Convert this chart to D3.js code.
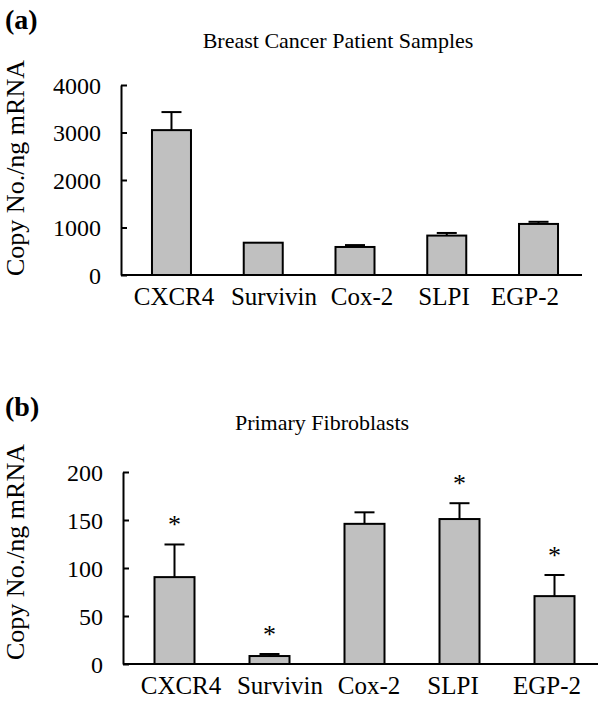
<!DOCTYPE html>
<html>
<head>
<meta charset="utf-8">
<script src="https://cdn.jsdelivr.net/npm/d3@7"></script>
<style>
html,body{margin:0;padding:0;background:#fff;}
svg{display:block;}
text{font-family:"Liberation Serif","Times New Roman",serif;fill:#000;}
</style>
</head>
<body>
<svg id="chart" width="600" height="706"></svg>
<script>
const categories = ["CXCR4", "Survivin", "Cox-2", "SLPI", "EGP-2"];
const cancerValues = [3050, 680, 590, 830, 1075];
const cancerErrors = [380, 0, 40, 55, 45];
const fibroValues = [90.5, 8.3, 146, 151, 70.7];
const fibroErrors = [34, 2.1, 12, 16.5, 22];
const fibroStars = [true, true, false, true, true];
const cancerTicks = [0, 1000, 2000, 3000, 4000];
const fibroTicks = [0, 50, 100, 150, 200];

const svg = d3.select("#chart");

function panel(cfg) {
  const g = svg.append("g");
  const x = d3.scalePoint().domain(categories).range(cfg.xRange).padding(0.5);
  const y = d3.scaleLinear().domain(cfg.yDomain).range(cfg.yRange);

  // panel letter
  g.append("text").attr("x", 5).attr("y", cfg.letterY)
    .style("font-size", "28px").style("font-weight", "bold").text(cfg.letter);
  // title
  g.append("text").attr("x", cfg.titleX).attr("y", cfg.titleY)
    .attr("text-anchor", "middle").style("font-size", "22px").text(cfg.title);

  // y axis
  const yAxis = d3.axisLeft(y).tickValues(cfg.ticks).tickFormat(d3.format("d"))
    .tickSizeInner(-6).tickSizeOuter(0).tickPadding(20);
  const ya = g.append("g").attr("transform", `translate(${cfg.axisX},0)`).call(yAxis);
  ya.attr("font-family", null).attr("font-size", null);
  ya.select(".domain").attr("stroke", "#000").attr("stroke-width", 2);
  ya.selectAll(".tick line").attr("stroke", "#000").attr("stroke-width", 2);
  ya.selectAll(".tick text").style("font-size", "24px")
    .attr("x", cfg.tickTextX - cfg.axisX).attr("dy", "0.35em");

  // y label
  g.append("text")
    .attr("transform", `translate(${cfg.yLabelX},${cfg.yLabelY}) rotate(-90)`)
    .attr("text-anchor", "middle").style("font-size", "26px").text("Copy No./ng mRNA");

  // bars
  const bw = cfg.barWidth;
  g.selectAll("rect.bar").data(cfg.values).enter().append("rect")
    .attr("class", "bar")
    .attr("x", (d, i) => x(categories[i]) - bw / 2)
    .attr("y", d => y(d))
    .attr("width", bw)
    .attr("height", d => y(0) - y(d))
    .attr("fill", "#c0c0c0").attr("stroke", "#000").attr("stroke-width", 2);

  // error bars
  cfg.values.forEach((v, i) => {
    const e = cfg.errors[i];
    if (!e) return;
    const cx = x(categories[i]);
    g.append("line").attr("x1", cx).attr("x2", cx).attr("y1", y(v)).attr("y2", y(v + e))
      .attr("stroke", "#000").attr("stroke-width", 2);
    g.append("line").attr("x1", cx - 10).attr("x2", cx + 10).attr("y1", y(v + e)).attr("y2", y(v + e))
      .attr("stroke", "#000").attr("stroke-width", 2);
  });

  // stars
  if (cfg.stars) {
    cfg.values.forEach((v, i) => {
      if (!cfg.stars[i]) return;
      g.append("text").attr("x", x(categories[i])).attr("y", y(v + cfg.errors[i]) - 11)
        .attr("text-anchor", "middle").style("font-size", "26px").text("*");
    });
  }

  // x axis line
  g.append("line").attr("x1", cfg.axisX).attr("x2", cfg.xAxisEnd)
    .attr("y1", y(0)).attr("y2", y(0)).attr("stroke", "#000").attr("stroke-width", 2);

  // x labels
  g.selectAll("text.xl").data(categories).enter().append("text")
    .attr("class", "xl")
    .attr("x", (d, i) => cfg.labelX[i])
    .attr("y", cfg.labelY)
    .attr("text-anchor", "middle").style("font-size", "25px").text(d => d);
}

panel({
  letter: "(a)", letterY: 29, title: "Breast Cancer Patient Samples", titleX: 338, titleY: 48,
  xRange: [125.6, 584.4], yDomain: [0, 4000], yRange: [275, 85], ticks: cancerTicks,
  axisX: 121, xAxisEnd: 582, tickTextX: 101, yLabelX: 24, yLabelY: 168,
  barWidth: 39, values: cancerValues, errors: cancerErrors, stars: null,
  labelX: [174, 274, 362, 444, 525], labelY: 305
});

panel({
  letter: "(b)", letterY: 416, title: "Primary Fibroblasts", titleX: 322, titleY: 430,
  xRange: [127, 602], yDomain: [0, 200], yRange: [664, 472], ticks: fibroTicks,
  axisX: 123, xAxisEnd: 598, tickTextX: 103, yLabelX: 24, yLabelY: 552,
  barWidth: 40, values: fibroValues, errors: fibroErrors, stars: fibroStars,
  labelX: [181, 280, 369, 453, 547], labelY: 694
});
</script>
</body>
</html>
